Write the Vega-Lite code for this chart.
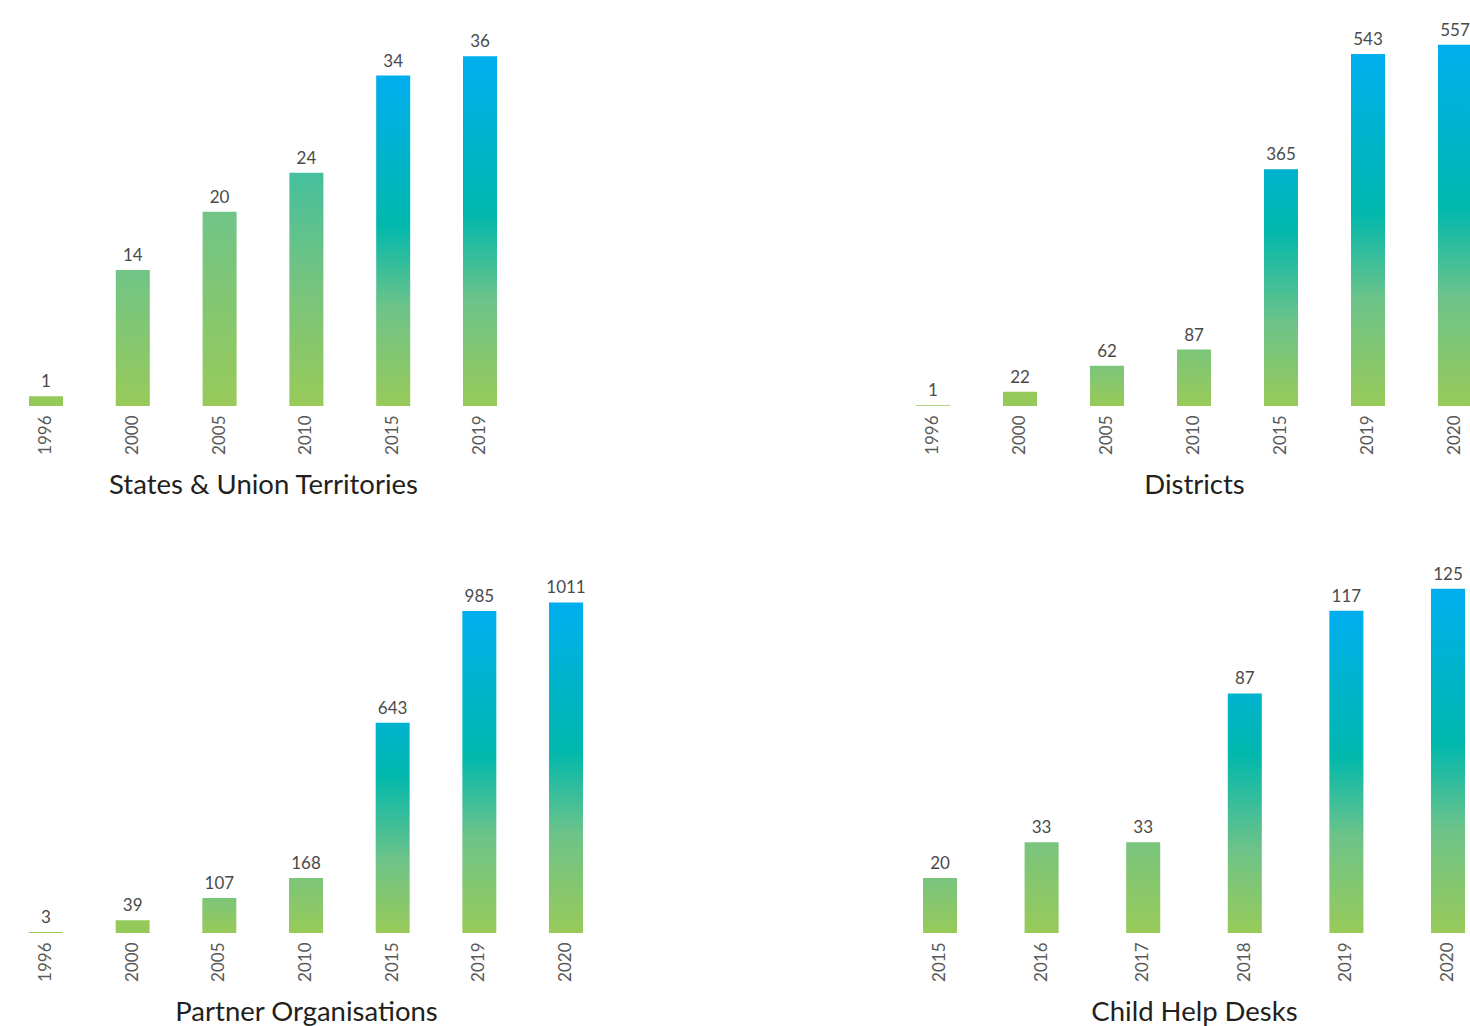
{
  "$schema": "https://vega.github.io/schema/vega-lite/v6.json",
  "padding": {"left": 29, "top": 21, "right": 0, "bottom": 0},
  "background": "white",
  "datasets": {
    "tl": [{"year": "1996", "v": 1}, {"year": "2000", "v": 14}, {"year": "2005", "v": 20}, {"year": "2010", "v": 24}, {"year": "2015", "v": 34}, {"year": "2019", "v": 36}],
    "tr": [{"year": "1996", "v": 1}, {"year": "2000", "v": 22}, {"year": "2005", "v": 62}, {"year": "2010", "v": 87}, {"year": "2015", "v": 365}, {"year": "2019", "v": 543}, {"year": "2020", "v": 557}],
    "bl": [{"year": "1996", "v": 3}, {"year": "2000", "v": 39}, {"year": "2005", "v": 107}, {"year": "2010", "v": 168}, {"year": "2015", "v": 643}, {"year": "2019", "v": 985}, {"year": "2020", "v": 1011}],
    "br": [{"year": "2015", "v": 20}, {"year": "2016", "v": 33}, {"year": "2017", "v": 33}, {"year": "2018", "v": 87}, {"year": "2019", "v": 117}, {"year": "2020", "v": 125}]
  },
  "bounds": "full",
  "spacing": 54,
  "vconcat": [
    {
      "bounds": "flush",
      "spacing": 419,
      "hconcat": [
        {
          "data": {"name": "tl"},
          "width": 468, "height": 380,
          "encoding": {
            "x": {"field": "year", "type": "ordinal", "scale": {"paddingInner": 0.608, "paddingOuter": 0}, "axis": {"title": "States & Union Territories"}},
            "y": {"field": "v", "type": "quantitative", "scale": {"domain": [0, 39.1], "nice": false}, "axis": null}
          },
          "layer": [
            {"mark": {"type": "bar"}, "encoding": {"fill": {"condition": [
              {"test": "datum.v >= 30", "value": {"gradient": "linear", "x1": 0, "y1": 1, "x2": 0, "y2": 0, "stops": [{"offset": 0, "color": "#98ca59"}, {"offset": 0.3, "color": "#6dc389"}, {"offset": 0.55, "color": "#00b8ad"}, {"offset": 1, "color": "#00aeef"}]}},
              {"test": "datum.v >= 22", "value": {"gradient": "linear", "x1": 0, "y1": 1, "x2": 0, "y2": 0, "stops": [{"offset": 0, "color": "#98ca59"}, {"offset": 0.5, "color": "#78c47d"}, {"offset": 1, "color": "#45bf9e"}]}},
              {"test": "datum.v >= 5", "value": {"gradient": "linear", "x1": 0, "y1": 1, "x2": 0, "y2": 0, "stops": [{"offset": 0, "color": "#98ca59"}, {"offset": 1, "color": "#70c487"}]}}
            ], "value": "#95ca5a"}}},
            {"mark": {"type": "text", "baseline": "alphabetic", "dy": -9, "font": "Lato", "fontSize": 17, "color": "#4a4a4a"}, "encoding": {"text": {"field": "v", "type": "quantitative", "format": "d"}}}
          ]
        },
        {
          "data": {"name": "tr"},
          "width": 556, "height": 380,
          "encoding": {
            "x": {"field": "year", "type": "ordinal", "scale": {"paddingInner": 0.609, "paddingOuter": 0}, "axis": {"title": "Districts"}},
            "y": {"field": "v", "type": "quantitative", "scale": {"domain": [0, 586], "nice": false}, "axis": null}
          },
          "layer": [
            {"mark": {"type": "bar"}, "encoding": {"fill": {"condition": [
              {"test": "datum.v >= 500", "value": {"gradient": "linear", "x1": 0, "y1": 1, "x2": 0, "y2": 0, "stops": [{"offset": 0, "color": "#98ca59"}, {"offset": 0.3, "color": "#6dc389"}, {"offset": 0.55, "color": "#00b8ad"}, {"offset": 1, "color": "#00aeef"}]}},
              {"test": "datum.v >= 300", "value": {"gradient": "linear", "x1": 0, "y1": 1, "x2": 0, "y2": 0, "stops": [{"offset": 0, "color": "#98ca59"}, {"offset": 0.35, "color": "#6dc389"}, {"offset": 0.75, "color": "#00b8ad"}, {"offset": 1, "color": "#00b2cf"}]}},
              {"test": "datum.v >= 50", "value": {"gradient": "linear", "x1": 0, "y1": 1, "x2": 0, "y2": 0, "stops": [{"offset": 0, "color": "#98ca59"}, {"offset": 1, "color": "#7cc57a"}]}}
            ], "value": "#95ca5a"}}},
            {"mark": {"type": "text", "baseline": "alphabetic", "dy": -9, "font": "Lato", "fontSize": 17, "color": "#4a4a4a"}, "encoding": {"text": {"field": "v", "type": "quantitative", "format": "d"}}}
          ]
        }
      ]
    },
    {
      "bounds": "flush",
      "spacing": 340,
      "hconcat": [
        {
          "data": {"name": "bl"},
          "width": 554, "height": 380,
          "encoding": {
            "x": {"field": "year", "type": "ordinal", "scale": {"paddingInner": 0.608, "paddingOuter": 0}, "axis": {"title": "Partner Organisations"}},
            "y": {"field": "v", "type": "quantitative", "scale": {"domain": [0, 1162], "nice": false}, "axis": null}
          },
          "layer": [
            {"mark": {"type": "bar"}, "encoding": {"fill": {"condition": [
              {"test": "datum.v >= 900", "value": {"gradient": "linear", "x1": 0, "y1": 1, "x2": 0, "y2": 0, "stops": [{"offset": 0, "color": "#98ca59"}, {"offset": 0.3, "color": "#6dc389"}, {"offset": 0.55, "color": "#00b8ad"}, {"offset": 1, "color": "#00aeef"}]}},
              {"test": "datum.v >= 500", "value": {"gradient": "linear", "x1": 0, "y1": 1, "x2": 0, "y2": 0, "stops": [{"offset": 0, "color": "#98ca59"}, {"offset": 0.35, "color": "#6dc389"}, {"offset": 0.75, "color": "#00b8ad"}, {"offset": 1, "color": "#00b2cf"}]}},
              {"test": "datum.v >= 100", "value": {"gradient": "linear", "x1": 0, "y1": 1, "x2": 0, "y2": 0, "stops": [{"offset": 0, "color": "#98ca59"}, {"offset": 1, "color": "#7cc57a"}]}}
            ], "value": "#95ca5a"}}},
            {"mark": {"type": "text", "baseline": "alphabetic", "dy": -9, "font": "Lato", "fontSize": 17, "color": "#4a4a4a"}, "encoding": {"text": {"field": "v", "type": "quantitative", "format": "d"}}}
          ]
        },
        {
          "data": {"name": "br"},
          "width": 542, "height": 380,
          "encoding": {
            "x": {"field": "year", "type": "ordinal", "scale": {"paddingInner": 0.665, "paddingOuter": 0}, "axis": {"title": "Child Help Desks"}},
            "y": {"field": "v", "type": "quantitative", "scale": {"domain": [0, 138], "nice": false}, "axis": null}
          },
          "layer": [
            {"mark": {"type": "bar"}, "encoding": {"fill": {"condition": [
              {"test": "datum.v >= 100", "value": {"gradient": "linear", "x1": 0, "y1": 1, "x2": 0, "y2": 0, "stops": [{"offset": 0, "color": "#98ca59"}, {"offset": 0.3, "color": "#6dc389"}, {"offset": 0.55, "color": "#00b8ad"}, {"offset": 1, "color": "#00aeef"}]}},
              {"test": "datum.v >= 60", "value": {"gradient": "linear", "x1": 0, "y1": 1, "x2": 0, "y2": 0, "stops": [{"offset": 0, "color": "#98ca59"}, {"offset": 0.35, "color": "#6dc389"}, {"offset": 0.75, "color": "#00b8ad"}, {"offset": 1, "color": "#00b2cf"}]}}
            ], "value": {"gradient": "linear", "x1": 0, "y1": 1, "x2": 0, "y2": 0, "stops": [{"offset": 0, "color": "#98ca59"}, {"offset": 1, "color": "#78c47e"}]}}}},
            {"mark": {"type": "text", "baseline": "alphabetic", "dy": -9, "font": "Lato", "fontSize": 17, "color": "#4a4a4a"}, "encoding": {"text": {"field": "v", "type": "quantitative", "format": "d"}}}
          ]
        }
      ]
    }
  ],
  "config": {
    "view": {"stroke": null},
    "axis": {
      "domain": false, "ticks": false, "tickSize": 0, "grid": false,
      "labelAngle": -90, "labelFont": "Lato", "labelFontSize": 17, "labelColor": "#595959", "labelPadding": 9,
      "titleFont": "Lato", "titleFontSize": 27.5, "titleFontWeight": "normal", "titleColor": "#231f20", "titlePadding": 17
    }
  }
}
